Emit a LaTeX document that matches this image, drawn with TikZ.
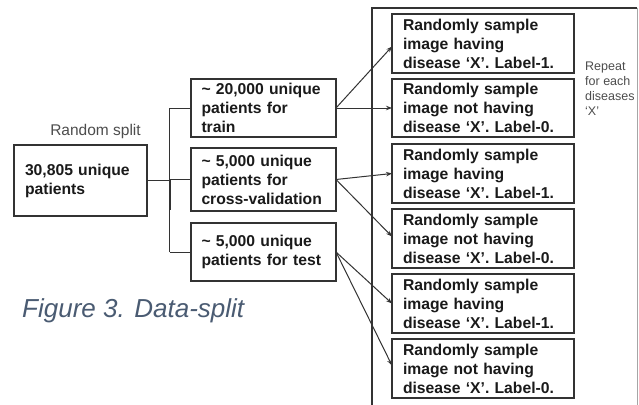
\documentclass[tikz,border=0pt]{standalone}
\usepackage{fontspec}
\setmainfont{Liberation Sans}
\usetikzlibrary{arrows.meta}
\definecolor{boxline}{HTML}{333333}
\definecolor{txt}{HTML}{1A1A1A}
\definecolor{captxt}{HTML}{4A5B72}
\definecolor{graytxt}{HTML}{4D4D4D}
\tikzset{
  box/.style={draw=boxline, line width=1.2pt, rectangle, inner sep=0pt, outer sep=0pt,
    text=txt, font=\fontsize{15.7}{19}\selectfont\bfseries, align=left},
  splitbox/.style={box, minimum width=145pt, text width=124pt},
  samplebox/.style={box, minimum width=182pt, minimum height=59pt, text width=160pt},
  conn/.style={draw=boxline, line width=1pt},
  arr/.style={conn, -{Stealth[length=6pt,width=4.5pt]}},
}
\begin{document}
\begin{tikzpicture}[x=1pt,y=-1pt]
\useasboundingbox[fill=white] (0,0) rectangle (639,404);
% outer frame
\draw[boxline, line width=1.2pt] (372,410) -- (372,8) -- (637,8);
\draw[gray!70, line width=0.8pt] (637,8) -- (637,410);

% left side
\node[box, minimum width=133pt, minimum height=71pt, text width=111pt] (main) at (80.5,180.5)
  {30,805 unique\\patients};
\node[text=graytxt, font=\fontsize{15.5}{18}\selectfont, anchor=base] (rs) at (95.5,135) {Random split};

\node[splitbox, minimum height=58pt] (train) at (263.5,108) {\textasciitilde{} 20,000 unique\\patients for\\train};
\node[splitbox, minimum height=63pt] (cv) at (263.5,179.5) {\textasciitilde{} 5,000 unique\\patients for\\cross-validation};
\node[splitbox, minimum height=58pt] (test) at (263.5,252) {\textasciitilde{} 5,000 unique\\patients for test};

\coordinate (j) at (169.5,180);
\draw[conn] (main.east |- j) -- (j);
\draw[conn] (j |- train.west) -- (j |- test.west);
\draw[boxline, line width=2pt] (j) -- ++(0,30);
\draw[conn] (j |- train.west) -- (train.west);
\draw[conn] (j |- cv.west) -- (cv.west);
\draw[conn] (j |- test.west) -- (test.west);

% right sample boxes
\node[samplebox] (r1) at (483,43.5) {Randomly sample\\image having\\disease ‘X’. Label-1.};
\node[samplebox, minimum height=58pt] (r2) at (483,108) {Randomly sample\\image not having\\disease ‘X’. Label-0.};
\node[samplebox] (r3) at (483,173.5) {Randomly sample\\image having\\disease ‘X’. Label-1.};
\node[samplebox] (r4) at (483,238.5) {Randomly sample\\image not having\\disease ‘X’. Label-0.};
\node[samplebox] (r5) at (483,303.5) {Randomly sample\\image having\\disease ‘X’. Label-1.};
\node[samplebox] (r6) at (483,368.5) {Randomly sample\\image not having\\disease ‘X’. Label-0.};

\draw[arr] (train.east) -- ([yshift=-3pt]r1.west);
\draw[arr] (train.east) -- (r2.west);
\draw[arr] (cv.east) -- (r3.west);
\draw[arr] (cv.east) -- ([yshift=2pt]r4.west);
\draw[arr] (test.east) -- (r5.west);
\draw[arr] (test.east) -- ([yshift=3pt]r6.west);

\node[text=graytxt, font=\fontsize{12.5}{15}\selectfont, align=left, anchor=north west, inner sep=0pt]
  (rep) at (585,62) {Repeat\\for each\\diseases\\‘X’};

\node[text=captxt, font=\fontsize{26}{30}\selectfont\itshape, anchor=base west, inner sep=0pt]
  (cap) at (22,317) {Figure 3. Data-split};
\end{tikzpicture}
\end{document}
